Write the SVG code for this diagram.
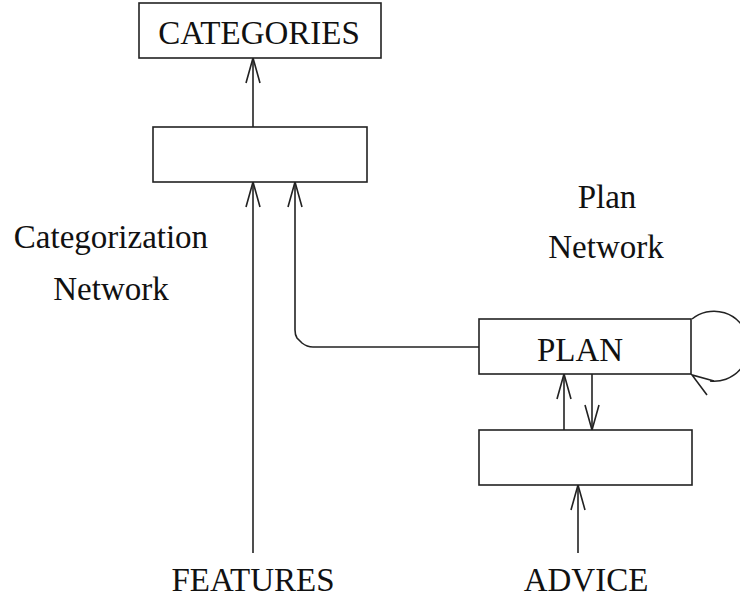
<svg xmlns="http://www.w3.org/2000/svg" width="740" height="600" viewBox="0 0 740 600">
<defs>
<style>
.box{fill:#fff;stroke:#222;stroke-width:1.6}
.ln{fill:none;stroke:#222;stroke-width:1.6}
text{font-family:"Liberation Serif","Times New Roman",serif;font-size:33px;fill:#111;text-anchor:middle}
</style>
<marker id="open" viewBox="-27 -9 30 18" refX="0" refY="0" markerWidth="30" markerHeight="18" markerUnits="userSpaceOnUse" orient="auto">
<path d="M-25,-7 L0,0 L-25,7" fill="none" stroke="#222" stroke-width="1.6"/>
</marker>
</defs>
<rect width="740" height="600" fill="#fff"/>
<g id="connectors">
<line class="ln" x1="253" y1="127" x2="253" y2="58" marker-end="url(#open)"/>
<line class="ln" x1="253" y1="553" x2="253" y2="182" marker-end="url(#open)"/>
<path class="ln" d="M479,347 L313,347 Q307,347 302,343 L297,338 Q295,335 295,330 L295,182" marker-end="url(#open)"/>
<line class="ln" x1="564" y1="430" x2="564" y2="374" marker-end="url(#open)"/>
<line class="ln" x1="592" y1="374" x2="592" y2="430" marker-end="url(#open)"/>
<line class="ln" x1="578" y1="553" x2="578" y2="485" marker-end="url(#open)"/>
<path class="ln" d="M692,319 A35,35 0 1 1 710,381"/>
<polyline class="ln" points="707,395 692,375 714,381"/>
</g>
<g id="categories">
<rect class="box" x="139" y="3" width="242" height="55"/>
<text x="259" y="44">CATEGORIES</text>
</g>
<g id="categorization-hidden">
<rect class="box" x="153" y="127" width="214" height="55"/>
</g>
<g id="plan">
<rect class="box" x="479" y="319" width="212" height="55"/>
<text x="580" y="361">PLAN</text>
</g>
<g id="plan-hidden">
<rect class="box" x="479" y="430" width="213" height="55"/>
</g>
<g id="features">
<text x="253" y="591">FEATURES</text>
</g>
<g id="advice">
<text x="586" y="591">ADVICE</text>
</g>
<g id="categorization-label">
<text x="111" y="248">Categorization</text>
<text x="111" y="300">Network</text>
</g>
<g id="plan-label">
<text x="607" y="208">Plan</text>
<text x="606" y="258">Network</text>
</g>
</svg>
